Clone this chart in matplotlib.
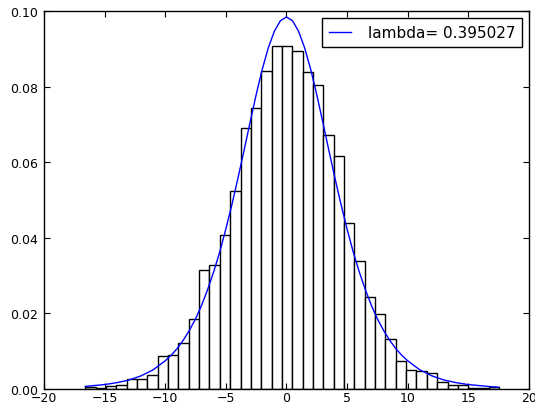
import matplotlib
matplotlib.use("Agg")
import matplotlib.pyplot as plt
import numpy as np

# histogram: 40 equal bins between these edges, normalised heights
hist_lo, hist_hi = -16.59, 17.55
heights = [0.0004, 0.0002, 0.0008, 0.0011, 0.0025, 0.0027, 0.0037, 0.0087, 0.0090, 0.0120,
           0.0185, 0.0314, 0.0328, 0.0408, 0.0525, 0.0690, 0.0744, 0.0842, 0.0909, 0.0909,
           0.0894, 0.0838, 0.0804, 0.0673, 0.0616, 0.0438, 0.0338, 0.0242, 0.0197, 0.0133,
           0.0074, 0.0050, 0.0046, 0.0042, 0.0017, 0.0010, 0.0010, 0.0003, 0.0001, 0.0005]

# fitted curve, points
curve_x = [-16.6, -16, -15, -14, -13, -12, -11, -10, -9.5, -9, -8.5, -8, -7.5, -7, -6.5, -6,
           -5.5, -5, -4.5, -4, -3.5, -3, -2.5, -2, -1.5, -1, -0.5, 0,
           0.5, 1, 1.5, 2, 2.5, 3, 3.5, 4, 4.5, 5, 5.5, 6, 6.5, 7, 7.5, 8, 8.5, 9, 9.5,
           10, 11, 12, 13, 14, 15, 16, 17, 17.5]
curve_y = [0.0006, 0.0008, 0.0011, 0.0016, 0.0023, 0.0034, 0.0050, 0.0074, 0.0089, 0.0107, 0.0129,
           0.0155, 0.0185, 0.0221, 0.0263, 0.0310, 0.0363, 0.0423, 0.0488, 0.0558, 0.0631, 0.0706,
           0.0779, 0.0846, 0.0903, 0.0947, 0.0975, 0.0985,
           0.0975, 0.0947, 0.0903, 0.0846, 0.0779, 0.0706, 0.0631, 0.0558, 0.0488, 0.0423, 0.0363,
           0.0310, 0.0263, 0.0221, 0.0185, 0.0155, 0.0129, 0.0107, 0.0089,
           0.0074, 0.0050, 0.0034, 0.0023, 0.0016, 0.0011, 0.0008, 0.0005, 0.0004]

lam = "0.395027"

fig = plt.figure(figsize=(5.35, 4.06), dpi=100)
ax = fig.add_axes([0.0822, 0.0401, 0.9065, 0.9296])

edges = np.linspace(hist_lo, hist_hi, len(heights) + 1)
ax.bar(edges[:-1], heights, width=np.diff(edges), align='edge',
       color='white', edgecolor='black', linewidth=1.0)
ax.plot(curve_x, curve_y, color='#0000ff', linewidth=1.0, label='lambda= ' + lam)

ax.set_xlim(-20, 20)
ax.set_ylim(0, 0.10)
ax.set_xticks(np.arange(-20, 21, 5))
ax.set_yticks(np.arange(0, 0.101, 0.02))
ax.yaxis.set_major_formatter(matplotlib.ticker.FormatStrFormatter('%.2f'))
ax.tick_params(direction='in', top=True, right=True, length=4, width=0.8, labelsize=9)
ax.tick_params(axis='y', pad=4)
ax.tick_params(axis='x', pad=2)
for s in ax.spines.values():
    s.set_linewidth(1.0)

leg = ax.legend(loc='upper right', fontsize=11, fancybox=False, framealpha=1,
                edgecolor='black', handlelength=1.45, handletextpad=1.1,
                borderpad=0.45, borderaxespad=0.45)
leg.get_frame().set_linewidth(1.0)

fig.savefig('out.png', dpi=100)
